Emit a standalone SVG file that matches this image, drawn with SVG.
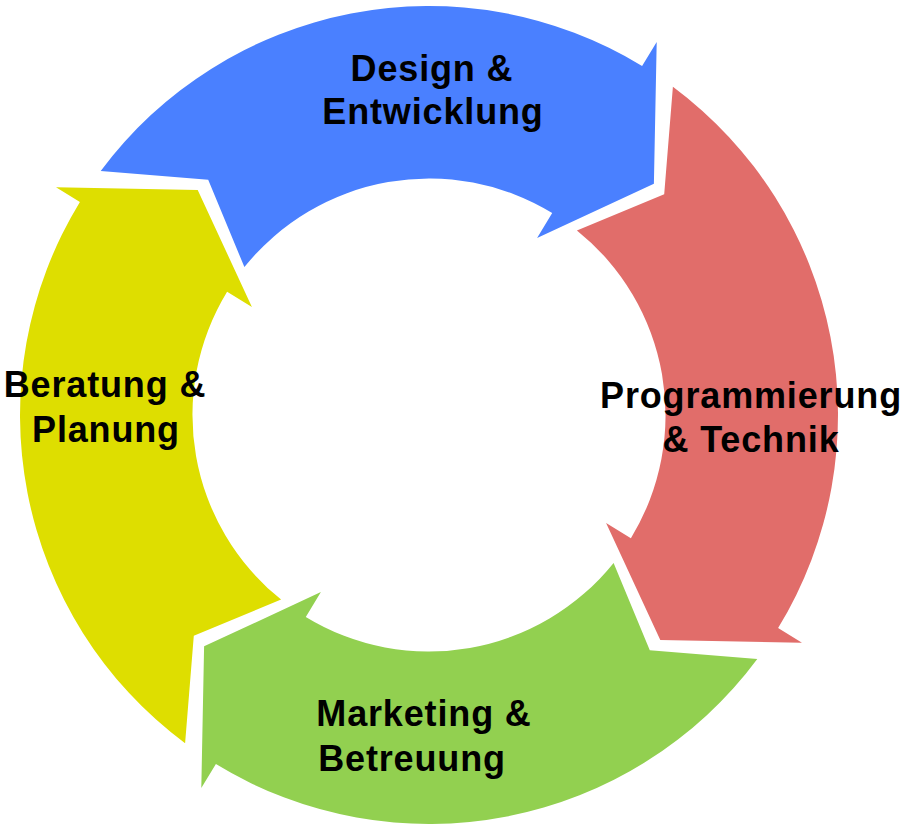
<svg xmlns="http://www.w3.org/2000/svg" width="910" height="831" viewBox="0 0 910 831">
  <style>
    .lbl { font-family: "Liberation Sans", Arial, sans-serif; font-weight: bold; font-size: 36px; fill: #000; text-anchor: middle; letter-spacing: 0.85px; }
  </style>
  <defs>
    <path id="arrow" d="M 100.7 171.1 A 409 409 0 0 1 642.1 65.9 L 656.7 42.0 L 653.9 183.7 L 537.1 237.9 L 552.2 213.1 A 236.5 236.5 0 0 0 244.4 267.1 L 208.2 179.8 Z"/>
  </defs>
  <rect width="910" height="831" fill="#ffffff"/>
  <g id="connectors"></g>
  <g id="node-design">
    <use href="#arrow" fill="#4A80FF"/>
  </g>
  <g id="node-programmierung">
    <use href="#arrow" fill="#E16D6A" transform="rotate(90 429 415)"/>
  </g>
  <g id="node-marketing">
    <use href="#arrow" fill="#92D050" transform="rotate(180 429 415)"/>
  </g>
  <g id="node-beratung">
    <use href="#arrow" fill="#DEDE00" transform="rotate(270 429 415)"/>
  </g>
  <g id="labels">
    <text class="lbl" x="432" y="81">Design &amp;</text>
    <text class="lbl" x="433" y="124">Entwicklung</text>
    <text class="lbl" x="751" y="408">Programmierung</text>
    <text class="lbl" x="751" y="452">&amp; Technik</text>
    <text class="lbl" x="424" y="726">Marketing &amp;</text>
    <text class="lbl" x="412" y="771">Betreuung</text>
    <text class="lbl" x="105" y="397">Beratung &amp;</text>
    <text class="lbl" x="106" y="442">Planung</text>
  </g>
</svg>
